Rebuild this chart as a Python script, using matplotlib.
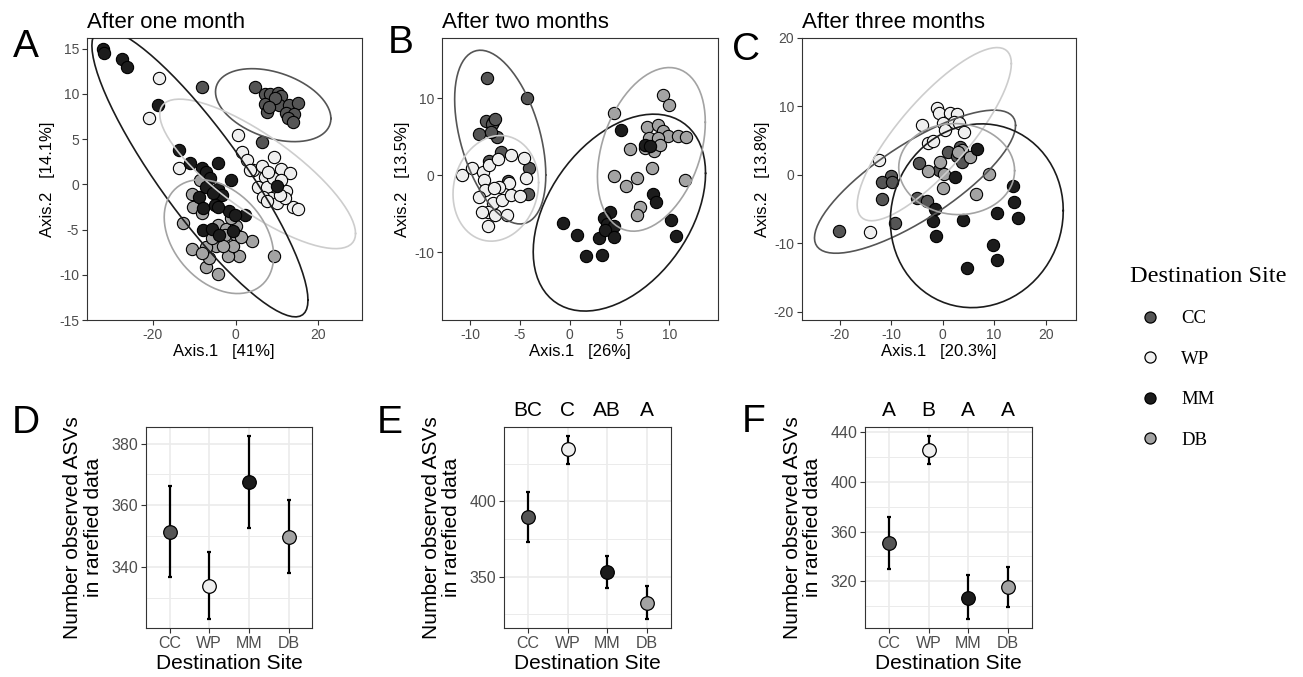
import numpy as np
import matplotlib
matplotlib.use("Agg")
import matplotlib.pyplot as plt
from matplotlib.ticker import MultipleLocator
from matplotlib.lines import Line2D

plt.rcParams["font.family"] = ["Liberation Sans", "DejaVu Sans"]
plt.rcParams["axes.unicode_minus"] = False

sites = ["CC", "WP", "MM", "DB"]

# PCoA scores, after one month
a_cc_x = [-8.0, 4.8, 7.1, 8.3, 10.3, 11.1, 7.1, 7.7, 10.5, 12.9, 15.1, 12.3, 14.2, 12.7, 13.9, 6.3, 9.5, 8.0]
a_cc_y = [10.7, 10.7, 10.0, 10.0, 10.1, 9.8, 8.9, 8.0, 8.8, 8.8, 9.0, 7.9, 7.8, 7.3, 6.9, 4.7, 9.5, 8.5]
a_wp_x = [-18.5, -20.9, -13.7, 0.6, 1.6, 2.8, 4.3, 6.3, 9.3, 7.1, 10.9, 13.1, 5.5, 7.5, 8.5, 10.1, 12.2,
          13.9, 15.1, 11.9, 9.1, 6.7, 3.5, 11.1, 7.9, 7.5, 10.7]
a_wp_y = [11.7, 7.3, 1.8, 5.4, 3.6, 2.7, 1.6, 2.0, 3.0, 0.8, 1.7, 1.3, -0.3, -0.3, -1.5, -2.1, -0.7,
          -2.5, -2.7, -1.5, 0.7, -1.4, 1.6, 0.5, 1.4, -1.9, -1.2]
a_mm_x = [-32.0, -31.8, -27.5, -26.3, -18.7, -13.7, -10.9, -8.1, -4.2, -1.2, 10.1, -7.2, -6.2, -8.9,
          -7.2, -4.2, -3.2, -5.4, -7.8, -5.0, -1.6, 2.3, -7.8, -5.8, -4.0, -0.6, -0.2, -4.2]
a_mm_y = [14.9, 14.5, 13.8, 13.0, 8.8, 3.8, 2.3, 1.8, 2.4, 0.5, -0.2, 1.4, 0.7, -1.4,
          -0.3, -0.5, -1.2, -1.0, -2.6, -2.3, -3.0, -3.4, -5.1, -4.9, -5.6, -5.2, -3.4, -2.5]
a_db_x = [-12.6, -10.6, -7.2, -4.2, -6.4, -8.6, -10.6, -10.4, -8.2, -4.3, -2.2, -2.6, 0.0, 0.2, 4.0,
          9.3, 0.8, -1.9, -4.8, -7.2, -8.2, -0.6, -3.0, -5.8, 1.4, -1.0]
a_db_y = [-4.3, -7.1, -9.1, -9.9, -8.2, 0.5, -1.1, -2.5, -3.2, -4.5, -4.9, -5.6, -4.6, -5.6, -6.3,
          -7.9, -7.9, -7.9, -6.8, -6.9, -7.6, -6.8, -6.8, -5.9, -5.8, -3.7]

# PCoA scores, after two months
b_cc_x = [-8.3, -4.3, -8.4, -7.7, -7.8, -9.1, -7.3, -7.9, -6.9, -8.1, -4.1, -6.2, -4.2, -7.5]
b_cc_y = [12.7, 10.0, 7.1, 7.0, 6.7, 5.4, 5.0, 5.6, 3.1, 1.9, 1.0, -0.7, -2.4, 7.3]
b_wp_x = [-10.8, -9.8, -8.7, -8.1, -7.2, -5.9, -4.6, -4.4, -6.1, -7.1, -8.6, -8.5, -9.1, -7.7,
          -6.8, -5.9, -5.0, -8.2, -7.5, -6.3, -8.2, -8.8, -7.6]
b_wp_y = [0.0, 1.0, 0.4, 1.3, 2.1, 2.6, 2.2, -0.3, -1.0, -1.5, -0.6, -1.9, -2.8, -3.6,
          -3.2, -2.6, -2.7, -4.8, -5.1, -5.1, -6.6, -4.8, -1.7]
b_mm_x = [5.1, -0.7, 0.7, 1.6, 3.2, 2.9, 4.0, 3.4, 3.7, 4.4, 3.5, 4.4, 8.3, 8.6, 10.2, 10.7, 7.5, 8.0]
b_mm_y = [5.9, -6.2, -7.7, -10.5, -10.3, -8.1, -4.7, -5.6, -6.3, -6.6, -7.1, -8.0, -2.4, -3.5,
          -5.8, -7.9, 3.9, 3.8]
b_db_x = [4.4, 9.4, 10.0, 7.7, 8.8, 9.4, 9.9, 10.9, 11.7, 7.9, 8.8, 8.4, 9.0, 7.5, 6.0, 8.2, 4.4,
          5.6, 6.7, 11.6, 7.0, 6.7]
b_db_y = [8.1, 10.4, 9.2, 6.3, 6.5, 5.8, 5.1, 5.1, 5.0, 4.8, 4.8, 3.2, 3.9, 3.6, 3.4, 1.0, -0.1,
          -1.4, -0.4, -0.6, -4.1, -5.2]

# PCoA scores, after three months
c_cc_x = [-20.1, -10.0, -11.7, -9.9, -11.8, -9.3, -4.7, -5.0, -3.1, 1.1, 2.8, 3.8, 3.4, -0.8]
c_cc_y = [-8.2, -0.2, -1.1, -1.1, -3.5, -7.1, 1.7, -3.4, -3.9, 3.3, 2.7, 1.8, 4.1, 0.7]
c_wp_x = [-12.3, -14.1, -4.1, -1.2, -0.8, 1.4, 2.7, 0.1, 2.1, 3.2, 4.1, 0.5, -2.8, -1.8]
c_wp_y = [2.1, -8.3, 7.3, 9.8, 9.0, 9.0, 8.8, 7.5, 7.7, 7.6, 6.3, 6.6, 4.6, 4.9]
c_mm_x = [6.7, 2.4, -1.5, -1.8, -1.4, 4.0, 10.5, 13.7, 13.8, 14.6, 9.8, 10.6, 4.7]
c_mm_y = [3.7, -0.4, -5.0, -6.7, -8.9, -6.6, -5.6, -1.6, -4.0, -6.3, -10.3, -12.5, -13.6]
c_db_x = [-2.8, -0.5, 0.3, 0.0, 3.8, 5.3, 8.9, 6.4, 3.0]
c_db_y = [0.6, 1.8, 0.1, -1.9, 3.6, 2.6, 0.1, -2.8, 3.3]

axis_x_labels = ["Axis.1   [41%]", "Axis.1   [26%]", "Axis.1   [20.3%]"]
axis_y_labels = ["Axis.2   [14.1%]", "Axis.2   [13.5%]", "Axis.2   [13.8%]"]
titles = ["After one month", "After two months", "After three months"]

# observed ASVs: mean and error bar ends
d_mean = [351.4, 334.0, 367.5, 349.8]
d_low = [336.8, 323.1, 352.8, 338.0]
d_high = [366.1, 345.0, 382.5, 361.6]
e_mean = [389.4, 434.6, 353.1, 332.8]
e_low = [372.8, 424.9, 342.7, 321.8]
e_high = [406.0, 443.6, 363.6, 343.8]
f_mean = [350.7, 425.9, 306.7, 315.2]
f_low = [329.9, 414.6, 289.4, 298.8]
f_high = [371.4, 437.1, 324.8, 331.5]
e_groups = ["BC", "C", "AB", "A"]
f_groups = ["A", "B", "A", "A"]

fills = {"CC": "#555555", "WP": "#efefef", "MM": "#1c1c1c", "DB": "#a3a3a3"}
rings = {"CC": "#555555", "WP": "#cdcdcd", "MM": "#1c1c1c", "DB": "#a3a3a3"}


def stat_ellipse(xs, ys, level=0.95, segments=80):
    # same construction as ggplot2 stat_ellipse(type = "norm")
    xy = np.column_stack([xs, ys])
    loc = xy.mean(axis=0)
    cov = np.cov(xy.T)
    d = len(xs) - 1
    qf = d / 2 * ((1 - level) ** (-2 / d) - 1)
    radius = np.sqrt(2 * qf)
    t = np.linspace(0, 2 * np.pi, segments + 1)
    circle = np.column_stack([np.cos(t), np.sin(t)])
    pts = loc + radius * circle @ np.linalg.cholesky(cov).T
    return pts[:, 0], pts[:, 1]


scores = [
    {"CC": (a_cc_x, a_cc_y), "WP": (a_wp_x, a_wp_y), "MM": (a_mm_x, a_mm_y), "DB": (a_db_x, a_db_y)},
    {"CC": (b_cc_x, b_cc_y), "WP": (b_wp_x, b_wp_y), "MM": (b_mm_x, b_mm_y), "DB": (b_db_x, b_db_y)},
    {"CC": (c_cc_x, c_cc_y), "WP": (c_wp_x, c_wp_y), "MM": (c_mm_x, c_mm_y), "DB": (c_db_x, c_db_y)},
]

fig = plt.figure(figsize=(13.03, 6.77), dpi=100)
W, H = 1303, 677


def rect(l, t, r, b):
    return [l / W, 1 - b / H, (r - l) / W, (b - t) / H]


top_rects = [rect(86.7, 37.7, 361.7, 320), rect(442.3, 37.7, 718.3, 320), rect(801.7, 37.7, 1076, 320)]
top_xlim = [(-36.0, 30.5), (-12.8, 14.9), (-27.4, 25.9)]
top_ylim = [(-15.0, 16.2), (-18.8, 17.9), (-21.2, 20.0)]
top_xstep = [20, 5, 10]
top_ystep = [5, 10, 10]

for i in range(3):
    ax = fig.add_axes(top_rects[i])
    for s in ["CC", "WP", "DB", "MM"]:
        xs, ys = scores[i][s]
        ax.scatter(xs, ys, s=78, facecolor=fills[s], edgecolor="black", linewidth=0.8, zorder=3)
    for s in sites:
        xs, ys = scores[i][s]
        ex, ey = stat_ellipse(xs, ys)
        ax.plot(ex, ey, color=rings[s], lw=1.2, zorder=4)
    ax.set_xlim(*top_xlim[i])
    ax.set_ylim(*top_ylim[i])
    ax.xaxis.set_major_locator(MultipleLocator(top_xstep[i]))
    ax.yaxis.set_major_locator(MultipleLocator(top_ystep[i]))
    ax.tick_params(labelsize=10, labelcolor="#4d4d4d", color="#333333", length=3.5, width=0.8, pad=2)
    for sp in ax.spines.values():
        sp.set_color("#333333")
        sp.set_linewidth(0.8)
    ax.set_xlabel(axis_x_labels[i], fontsize=12, labelpad=2)
    ax.set_ylabel(axis_y_labels[i], fontsize=12, labelpad=3)
    ax.set_title(titles[i], loc="left", fontsize=16, pad=7)

bot_rects = [rect(145.7, 426.7, 312.3, 628.3), rect(504, 426.7, 670.7, 628.3), rect(865, 426.7, 1031.7, 628.3)]
bot_means = [d_mean, e_mean, f_mean]
bot_low = [d_low, e_low, f_low]
bot_high = [d_high, e_high, f_high]
bot_step = [20, 50, 40]
bot_groups = [None, e_groups, f_groups]

for i in range(3):
    ax = fig.add_axes(bot_rects[i])
    pos = np.arange(1, 5)
    for j, s in enumerate(sites):
        m = bot_means[i][j]
        ax.errorbar(pos[j], m, yerr=[[m - bot_low[i][j]], [bot_high[i][j] - m]], fmt="none",
                    ecolor="black", elinewidth=1.6, capsize=1.6, capthick=1.6, zorder=3)
        ax.plot(pos[j], m, "o", ms=9.8, mfc=fills[s], mec="black", mew=0.9, zorder=4)
    ax.set_xlim(0.4, 4.6)
    ax.set_xticks(pos)
    ax.set_xticklabels(sites)
    ax.yaxis.set_major_locator(MultipleLocator(bot_step[i]))
    ax.yaxis.set_minor_locator(MultipleLocator(bot_step[i] / 2))
    ax.xaxis.set_minor_locator(MultipleLocator(1))
    ax.grid(which="major", color="#ebebeb", lw=1.2, zorder=0)
    ax.grid(which="minor", axis="y", color="#ebebeb", lw=0.7, zorder=0)
    ax.set_axisbelow(True)
    ax.tick_params(which="minor", length=0)
    ax.tick_params(labelsize=11.5, labelcolor="#4d4d4d", color="#333333", length=3.5, width=0.8, pad=2)
    for sp in ax.spines.values():
        sp.set_color("#333333")
        sp.set_linewidth(0.8)
    ax.set_xlabel("Destination Site", fontsize=15, labelpad=2)
    ax.set_ylabel("Number observed ASVs\nin rarefied data", fontsize=15, labelpad=6, linespacing=1.1)
    if bot_groups[i] is not None:
        for j, g in enumerate(bot_groups[i]):
            ax.annotate(g, xy=(pos[j], 1.0), xycoords=("data", "axes fraction"), xytext=(0, 5),
                        textcoords="offset points", ha="center", va="bottom", fontsize=15)

letters = [("A", 12.7, 56.7), ("B", 388, 53.3), ("C", 731.7, 60), ("D", 11.7, 433.3), ("E", 376.7, 433.3),
           ("F", 741.7, 431.7)]
for lab, lx, ly in letters:
    fig.text(lx / W, 1 - ly / H, lab, fontsize=28, ha="left", va="baseline")

handles = [Line2D([], [], ls="none", marker="o", ms=8, mfc=fills[s], mec="black", mew=0.9) for s in sites]
leg = fig.legend(handles, sites, loc="upper left", bbox_to_anchor=(1123 / W, 1 - 258 / H), frameon=False,
                 title="Destination Site", prop={"family": "Liberation Serif", "size": 13.5},
                 labelspacing=1.25, handletextpad=0.6, handlelength=2.1, borderaxespad=0)
leg.get_title().set_fontfamily("Liberation Serif")
leg.get_title().set_fontsize(17.5)
leg._legend_box.align = "left"

fig.savefig("out.png", dpi=100)
